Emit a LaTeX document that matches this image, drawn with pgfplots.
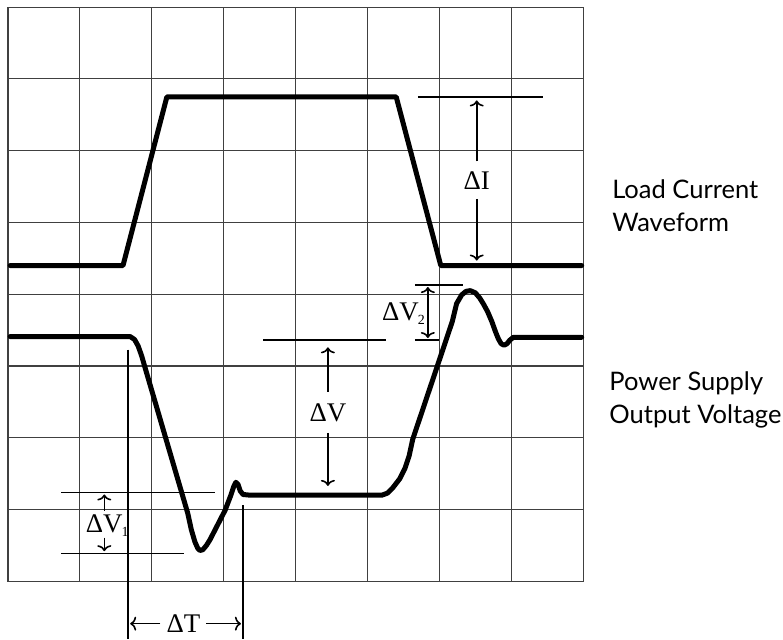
\documentclass[border=0pt]{standalone}
\usepackage{fontspec}
\setmainfont{Liberation Serif}
\newfontfamily\labelfont{Lato}
\usepackage{pgfplots}
\pgfplotsset{compat=1.18}
\usetikzlibrary{arrows.meta}

\begin{document}
\begin{tikzpicture}[
  ann/.style={line width=0.8bp, black},
  arr/.style={line width=0.8bp, black, -{To[length=3bp,width=7bp]}},
  dl/.style={font=\fontsize{13.5}{15}\selectfont, inner sep=0pt},
  tl/.style={font=\labelfont\fontsize{12.8}{16.5}\selectfont, align=left, anchor=west, inner sep=0pt},
]
\begin{axis}[
  width=287.5bp, height=287bp, scale only axis,
  xmin=0, xmax=8, ymin=0, ymax=8,
  xtick={0,...,8}, ytick={0,...,8},
  xticklabel=\empty, yticklabel=\empty,
  major tick length=0pt,
  grid=major,
  grid style={black!75, line width=0.55bp},
  axis line style={black!75, line width=0.55bp},
  clip=false,
]
% Load current waveform
\addplot[black, line width=2.5bp, line cap=round, line join=round] coordinates {
  (0.03,4.40) (1.60,4.40) (2.21,6.75) (5.40,6.75) (6.02,4.40) (7.98,4.40)
};
% Power supply output voltage
\addplot[black, line width=2.5bp, line cap=round, line join=round] coordinates {
  (0.03,3.41) (1.70,3.41) (1.76,3.37) (1.81,3.28) (1.86,3.14) (1.90,3.00)
  (2.50,0.95) (2.55,0.72) (2.60,0.55) (2.64,0.46) (2.67,0.43) (2.71,0.44)
  (2.76,0.50) (2.81,0.58) (3.02,0.99) (3.10,1.20) (3.14,1.32) (3.17,1.38)
  (3.20,1.35) (3.23,1.26) (3.27,1.21) (3.37,1.20) (5.20,1.20) (5.28,1.23)
  (5.35,1.30) (5.45,1.43) (5.52,1.57) (5.58,1.75) (5.63,1.98) (6.18,3.62)
  (6.24,3.87) (6.31,3.99) (6.37,4.04) (6.43,4.05) (6.50,4.02) (6.56,3.95)
  (6.61,3.87) (6.67,3.76) (6.73,3.62) (6.78,3.48) (6.82,3.38) (6.86,3.31)
  (6.90,3.29) (6.94,3.31) (6.98,3.36) (7.03,3.40) (7.98,3.40)
};
% Delta I
\draw[ann] (axis cs:5.70,6.75) -- (axis cs:7.44,6.75);
\draw[arr] (axis cs:6.52,5.85) -- (axis cs:6.52,6.70);
\draw[arr] (axis cs:6.52,5.33) -- (axis cs:6.52,4.47);
\node[dl] at (axis cs:6.52,5.58) {ΔI};
% Delta V2
\draw[ann] (axis cs:5.66,4.13) -- (axis cs:6.33,4.13);
\draw[ann] (axis cs:5.66,3.36) -- (axis cs:5.99,3.36);
\draw[arr, {To[length=3bp,width=7bp]}-{To[length=3bp,width=7bp]}] (axis cs:5.84,4.10) -- (axis cs:5.84,3.39);
\node[dl] at (axis cs:5.50,3.73) {ΔV\kern-0.5bp{\fontsize{7}{7}\selectfont\raisebox{-1.8bp}{2}}};
% Delta V
\draw[ann] (axis cs:3.55,3.36) -- (axis cs:5.26,3.36);
\draw[arr] (axis cs:4.45,2.64) -- (axis cs:4.45,3.26);
\draw[arr] (axis cs:4.45,2.07) -- (axis cs:4.45,1.33);
\node[dl] at (axis cs:4.45,2.35) {ΔV};
% Delta V1
\draw[ann] (axis cs:0.74,1.24) -- (axis cs:2.88,1.24);
\draw[ann] (axis cs:0.74,0.39) -- (axis cs:2.45,0.39);
\draw[arr] (axis cs:1.34,0.98) -- (axis cs:1.34,1.21);
\draw[arr] (axis cs:1.34,0.61) -- (axis cs:1.34,0.42);
\node[dl] at (axis cs:1.38,0.78) {ΔV\kern-0.5bp{\fontsize{7}{7}\selectfont\raisebox{-1.8bp}{1}}};
% Delta T
\draw[ann] (axis cs:1.67,3.23) -- (axis cs:1.67,-0.81);
\draw[ann] (axis cs:3.27,1.06) -- (axis cs:3.27,-0.81);
\draw[arr] (axis cs:2.12,-0.59) -- (axis cs:1.70,-0.59);
\draw[arr] (axis cs:2.76,-0.59) -- (axis cs:3.24,-0.59);
\node[dl] at (axis cs:2.44,-0.59) {ΔT};
% Side labels
\node[tl] at (axis cs:8.40,5.23) {Load Current\\Waveform};
\node[tl] at (axis cs:8.36,2.53) {Power Supply\\Output Voltage};
% bounding box corners
\coordinate (bbA) at (axis cs:-0.111,-0.81);
\coordinate (bbB) at (axis cs:10.78,8.10);
\end{axis}
\pgfresetboundingbox
\path (bbA) rectangle (bbB);
\end{tikzpicture}
\end{document}
